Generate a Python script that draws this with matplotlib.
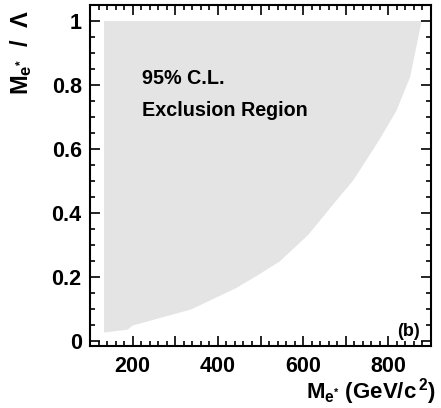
import matplotlib.pyplot as plt
import numpy as np
from matplotlib.ticker import MultipleLocator

plt.rcParams['font.family'] = ['Liberation Sans', 'DejaVu Sans']
plt.rcParams['font.weight'] = 'bold'
plt.rcParams['mathtext.fontset'] = 'custom'
plt.rcParams['mathtext.rm'] = 'Liberation Sans:bold'
plt.rcParams['mathtext.bf'] = 'Liberation Sans:bold'
plt.rcParams['mathtext.it'] = 'Liberation Sans:bold'

# exclusion contour: lower edge (left -> right), then right edge (bottom -> top)
lower_mass = [133, 188, 200, 337, 443, 490, 545, 612, 679]
lower_ratio = [0.027, 0.036, 0.049, 0.099, 0.166, 0.203, 0.249, 0.332, 0.441]
right_mass = [718, 778, 819, 851, 878]
right_ratio = [0.503, 0.627, 0.72, 0.825, 1.0]
left_mass = 133

xs = [left_mass] + lower_mass + right_mass + [left_mass]
ys = [1.0] + lower_ratio + right_ratio + [1.0]

fig = plt.figure(figsize=(4.41, 4.08), dpi=100)
ax = fig.add_axes([90 / 441, 1 - 346 / 408, 341 / 441, 341 / 408])

ax.fill(xs, ys, color='#e4e4e4', lw=0)

ax.set_xlim(100, 900)
ax.set_ylim(-0.015, 1.05)

ax.xaxis.set_major_locator(MultipleLocator(100))
ax.xaxis.set_minor_locator(MultipleLocator(20))
ax.yaxis.set_major_locator(MultipleLocator(0.2))
ax.yaxis.set_minor_locator(MultipleLocator(0.05))
ax.set_xticklabels(['' if int(round(v)) % 200 else str(int(round(v))) for v in ax.get_xticks()])
ax.set_yticks([0, 0.2, 0.4, 0.6, 0.8, 1.0])
ax.set_yticklabels(['0', '0.2', '0.4', '0.6', '0.8', '1'])

ax.tick_params(which='both', direction='in', top=True, right=True, labelsize=15.5, width=1.2)
ax.tick_params(which='major', length=7)
ax.tick_params(which='minor', length=3.5)
ax.tick_params(axis='x', pad=7)
ax.tick_params(axis='y', pad=6)
for s in ax.spines.values():
    s.set_linewidth(1.5)

ax.text(223, 0.82, '95% C.L.', fontsize=14.2, fontweight='bold', va='center')
ax.text(223, 0.722, 'Exclusion Region', fontsize=14.2, fontweight='bold', va='center')
ax.text(874, 0.03, '(b)', fontsize=13, fontweight='bold', ha='right', va='center')

fig.text(21 / 441, 1 - 10 / 408, r'$\mathbf{M_{e^{*}}}$  /  $\Lambda$', rotation=90,
         fontsize=17, fontweight='bold', ha='center', va='top')
fig.text(436 / 441, 1 / 408, r'$\mathbf{M_{e^{*}}}$ (GeV/c$^{\,2}$)',
         fontsize=16, fontweight='bold', ha='right', va='bottom')

fig.savefig('out.png', dpi=100)
